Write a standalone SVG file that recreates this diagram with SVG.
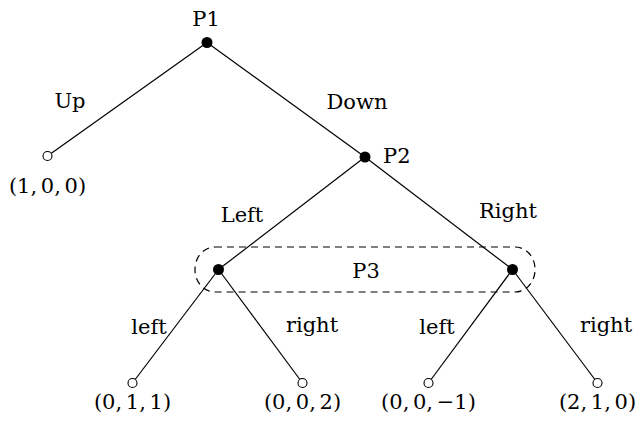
<svg xmlns="http://www.w3.org/2000/svg" width="640" height="427" viewBox="0 0 640 427">
<style>
text{font-family:'DejaVu Serif','Liberation Serif',serif;font-size:21px;fill:#000}
.m{text-anchor:middle}
.t{word-spacing:-3px}
.e{stroke:#000;stroke-width:1.2;fill:none}
.d{fill:#000}
.o{fill:#fff;stroke:#000;stroke-width:1.1}
.info{fill:none;stroke:#000;stroke-width:1.2;stroke-dasharray:7 5}
</style>
<rect width="640" height="427" fill="#fff"/>
<g id="connectors">
<line class="e" x1="207" y1="42.5" x2="47.5" y2="156"/>
<line class="e" x1="207" y1="42.5" x2="365" y2="157"/>
<line class="e" x1="365" y1="157" x2="218.5" y2="269.5"/>
<line class="e" x1="365" y1="157" x2="512.5" y2="269.5"/>
<line class="e" x1="218.5" y1="269.5" x2="132.5" y2="383"/>
<line class="e" x1="218.5" y1="269.5" x2="302.5" y2="383"/>
<line class="e" x1="512.5" y1="269.5" x2="428.5" y2="383"/>
<line class="e" x1="512.5" y1="269.5" x2="597.5" y2="383"/>
<text class="m" x="70" y="108">Up</text>
<text class="m" x="357" y="109">Down</text>
<text class="m" x="242" y="222">Left</text>
<text class="m" x="508" y="218">Right</text>
<text class="m" x="149" y="334">left</text>
<text class="m" x="312" y="332">right</text>
<text class="m" x="437" y="334">left</text>
<text class="m" x="606" y="332">right</text>
</g>
<g id="infoset">
<rect class="info" x="195" y="247" width="340" height="45" rx="20" ry="22"/>
<text class="m" x="366" y="278">P3</text>
</g>
<g id="P1"><circle class="d" cx="207" cy="42.5" r="5.5"/><text class="m" x="206" y="26">P1</text></g>
<g id="leafUp"><circle class="o" cx="47.5" cy="156" r="4.5"/><text class="m t" x="47.5" y="193">(1, 0, 0)</text></g>
<g id="P2"><circle class="d" cx="365" cy="157" r="5.5"/><text x="383" y="163">P2</text></g>
<g id="P3L"><circle class="d" cx="218.5" cy="269.5" r="5.5"/></g>
<g id="P3R"><circle class="d" cx="512.5" cy="269.5" r="5.5"/></g>
<g id="leaf1"><circle class="o" cx="132.5" cy="383" r="4.5"/><text class="m t" x="132.5" y="409">(0, 1, 1)</text></g>
<g id="leaf2"><circle class="o" cx="302.5" cy="383" r="4.5"/><text class="m t" x="302.5" y="409">(0, 0, 2)</text></g>
<g id="leaf3"><circle class="o" cx="428.5" cy="383" r="4.5"/><text class="m t" x="428.5" y="409">(0, 0, −1)</text></g>
<g id="leaf4"><circle class="o" cx="597.5" cy="383" r="4.5"/><text class="m t" x="597.5" y="409">(2, 1, 0)</text></g>
</svg>
